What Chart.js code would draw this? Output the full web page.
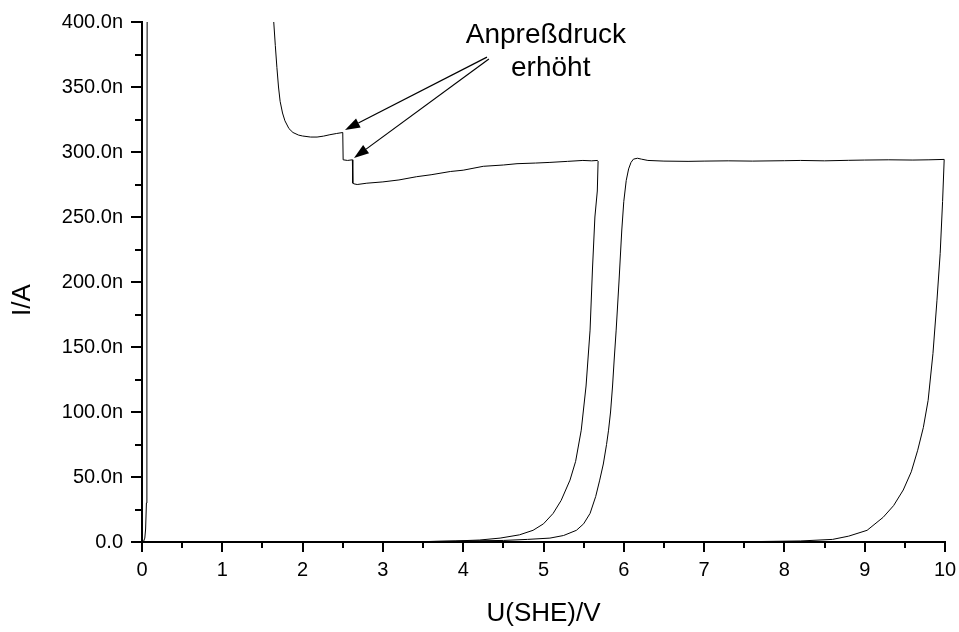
<!DOCTYPE html>
<html lang="de">
<head>
    <meta charset="UTF-8">
    <title>I/A gegen U(SHE)/V</title>
    <style>
        html, body {
            margin: 0;
            padding: 0;
            background: #fff;
        }
        #wrap {
            width: 959px;
            height: 632px;
        }
    </style>
    <script src="https://cdn.jsdelivr.net/npm/chart.js"></script>
</head>
<body>
    <div id="wrap"><canvas id="ivChart" width="959" height="632"></canvas></div>
    <script>
        // Kurven, Strom in nA, Potential in V
        // steiler Anstieg direkt bei 0 V
        const spikeU = [0.00, 0.02, 0.035, 0.045, 0.055, 0.060, 0.062, 0.064, 0.065];
        const spikeI = [0, 0.5, 3, 10, 30, 80, 200, 400, 430];

        // abfallender Ast, Stufen (Anpressdruck erhoeht), Plateau, Abfall bei 5.7 V
        const firstU = [1.63, 1.66, 1.68, 1.70, 1.72, 1.75, 1.78, 1.83, 1.88, 1.95, 2.00, 2.10, 2.18, 2.26, 2.34, 2.42, 2.50,
                        2.505, 2.56, 2.62, 2.625, 2.64, 2.68, 2.80, 3.00, 3.20, 3.42, 3.60, 3.84, 4.00, 4.25, 4.50, 4.67,
                        4.90, 5.08, 5.30, 5.49, 5.60, 5.67, 5.68, 5.67, 5.64, 5.61, 5.58, 5.53, 5.47, 5.40, 5.33, 5.22,
                        5.12, 5.00, 4.87, 4.70, 4.46, 4.20, 3.90, 3.50, 3.00];
        const firstI = [410, 382, 365, 350, 339, 330, 324, 318, 315, 313, 312.3, 311.5, 311.5, 312.2, 313.3, 314.2, 315,
                        294, 293.5, 294, 276, 275.5, 275, 276, 277, 278.5, 281, 282.5, 285, 286, 289, 290, 291,
                        291.5, 292, 292.8, 293.5, 293.2, 293.5, 293, 270, 250, 210, 163, 120, 86, 62, 47.6, 32,
                        22, 14, 9, 5.5, 3, 1.5, 0.8, 0.3, 0];

        // Anstieg bei 6 V, Plateau bis 10 V, Ruecklauf
        const secondU = [3.00, 3.50, 4.00, 4.50, 4.80, 5.08, 5.25, 5.41, 5.50, 5.58, 5.65, 5.70, 5.745, 5.785, 5.81, 5.835,
                         5.86, 5.88, 5.905, 5.94, 5.975, 6.00, 6.03, 6.06, 6.09, 6.12, 6.17, 6.22, 6.30, 6.50, 6.80, 7.00,
                         7.30, 7.60, 8.00, 8.20, 8.50, 8.80, 9.00, 9.30, 9.60, 9.80, 9.99, 9.97, 9.94, 9.90, 9.85, 9.79,
                         9.73, 9.66, 9.58, 9.48, 9.36, 9.23, 9.03, 8.80, 8.60, 8.20, 7.50, 7.00];
        const secondI = [0, 0.3, 0.8, 1.2, 2, 3, 5, 9, 14, 22, 35, 47.6, 60, 75, 86, 100,
                         120, 140, 163, 200, 240, 262, 278, 287, 292, 294.5, 295.2, 294.5, 293.5, 293, 292.8, 293,
                         293.2, 293, 293.3, 293.5, 293.2, 293.6, 293.8, 294, 293.8, 294, 294.3, 262, 222, 186, 145, 109,
                         88, 70.6, 54, 40, 28, 19, 9, 4.5, 2, 0.8, 0.2, 0];

        const xMajor = [0, 1, 2, 3, 4, 5, 6, 7, 8, 9, 10];
        const yMajor = [0, 50, 100, 150, 200, 250, 300, 350, 400];

        // Beschriftung mit Pfeilen (Datenkoordinaten)
        const noteLines = ['Anpreßdruck', 'erhöht'];
        const noteU = [5.03, 5.09];
        const noteI = [390, 364.5];
        const arrowFromU = [4.296, 4.32];
        const arrowFromI = [373, 371.5];
        const arrowToU = [2.528, 2.640];
        const arrowToI = [317, 295.4];

        const FONT = 'Arial, "Liberation Sans", sans-serif';

        function toPoints(us, is) {
            return us.map((u, i) => ({ x: u, y: is[i] }));
        }

        function curve(us, is) {
            return {
                data: toPoints(us, is),
                showLine: true,
                borderColor: '#000',
                borderWidth: 1,
                pointRadius: 0,
                tension: 0
            };
        }

        // Tickmarken (lang/kurz), Achsentitel, Beschriftung
        const decoPlugin = {
            id: 'deco',
            afterDraw(chart) {
                const ctx = chart.ctx;
                const xs = chart.scales.x;
                const ys = chart.scales.y;
                const area = chart.chartArea;
                ctx.save();
                ctx.strokeStyle = '#000';
                ctx.fillStyle = '#000';
                ctx.lineWidth = 2;

                for (let v = 0; v <= 10; v += 0.5) {
                    const px = Math.round(xs.getPixelForValue(v));
                    const len = xMajor.includes(v) ? 10 : 6;
                    ctx.beginPath();
                    ctx.moveTo(px, area.bottom);
                    ctx.lineTo(px, area.bottom + len);
                    ctx.stroke();
                }
                for (let v = 0; v <= 400; v += 25) {
                    const py = Math.round(ys.getPixelForValue(v));
                    const len = yMajor.includes(v) ? 11 : 7;
                    ctx.beginPath();
                    ctx.moveTo(area.left, py);
                    ctx.lineTo(area.left - len, py);
                    ctx.stroke();
                }

                // Achsentitel
                ctx.font = '26px ' + FONT;
                ctx.textAlign = 'center';
                ctx.textBaseline = 'middle';
                ctx.fillText('U(SHE)/V', (area.left + area.right) / 2, 614);
                ctx.save();
                ctx.translate(23, 300);
                ctx.rotate(-Math.PI / 2);
                ctx.fillText('I/A', 0, 0);
                ctx.restore();

                // Text
                ctx.font = '28px ' + FONT;
                noteLines.forEach((t, i) => {
                    ctx.fillText(t, xs.getPixelForValue(noteU[i]), ys.getPixelForValue(noteI[i]));
                });

                // Pfeile
                ctx.lineWidth = 1.2;
                arrowFromU.forEach((u, i) => {
                    const x0 = xs.getPixelForValue(u), y0 = ys.getPixelForValue(arrowFromI[i]);
                    const x1 = xs.getPixelForValue(arrowToU[i]), y1 = ys.getPixelForValue(arrowToI[i]);
                    const ang = Math.atan2(y1 - y0, x1 - x0);
                    const hl = 15, hw = 5;
                    const bx = x1 - hl * Math.cos(ang), by = y1 - hl * Math.sin(ang);
                    ctx.beginPath();
                    ctx.moveTo(x0, y0);
                    ctx.lineTo(bx, by);
                    ctx.stroke();
                    ctx.beginPath();
                    ctx.moveTo(x1, y1);
                    ctx.lineTo(bx + hw * Math.sin(ang), by - hw * Math.cos(ang));
                    ctx.lineTo(bx - hw * Math.sin(ang), by + hw * Math.cos(ang));
                    ctx.closePath();
                    ctx.fill();
                });
                ctx.restore();
            }
        };

        const ctx = document.getElementById('ivChart').getContext('2d');
        new Chart(ctx, {
            type: 'scatter',
            data: {
                datasets: [
                    curve(spikeU, spikeI),
                    curve(firstU, firstI),
                    curve(secondU, secondI)
                ]
            },
            options: {
                responsive: false,
                animation: false,
                layout: { padding: { top: 22, right: 14, left: 0, bottom: 0 } },
                plugins: {
                    legend: { display: false },
                    tooltip: { enabled: false }
                },
                scales: {
                    x: {
                        type: 'linear',
                        min: 0,
                        max: 10,
                        afterFit: (scale) => {
                            scale.height = 90;
                            scale.paddingLeft = 0;
                            scale.paddingRight = 0;
                        },
                        grid: { display: false, drawTicks: false },
                        border: { display: true, color: '#000', width: 2 },
                        ticks: {
                            stepSize: 1,
                            autoSkip: false,
                            maxRotation: 0,
                            padding: 16,
                            color: '#000',
                            font: { family: FONT, size: 20 },
                            callback: (v) => xMajor.includes(v) ? String(v) : ''
                        }
                    },
                    y: {
                        type: 'linear',
                        min: 0,
                        max: 400,
                        afterFit: (scale) => {
                            scale.width = 142;
                            scale.paddingTop = 0;
                            scale.paddingBottom = 0;
                        },
                        grid: { display: false, drawTicks: false },
                        border: { display: true, color: '#000', width: 2 },
                        ticks: {
                            stepSize: 50,
                            autoSkip: false,
                            padding: 19,
                            color: '#000',
                            font: { family: FONT, size: 20 },
                            callback: (v) => v === 0 ? '0.0' : v.toFixed(1) + 'n'
                        }
                    }
                }
            },
            plugins: [decoPlugin]
        });
    </script>
</body>
</html>
